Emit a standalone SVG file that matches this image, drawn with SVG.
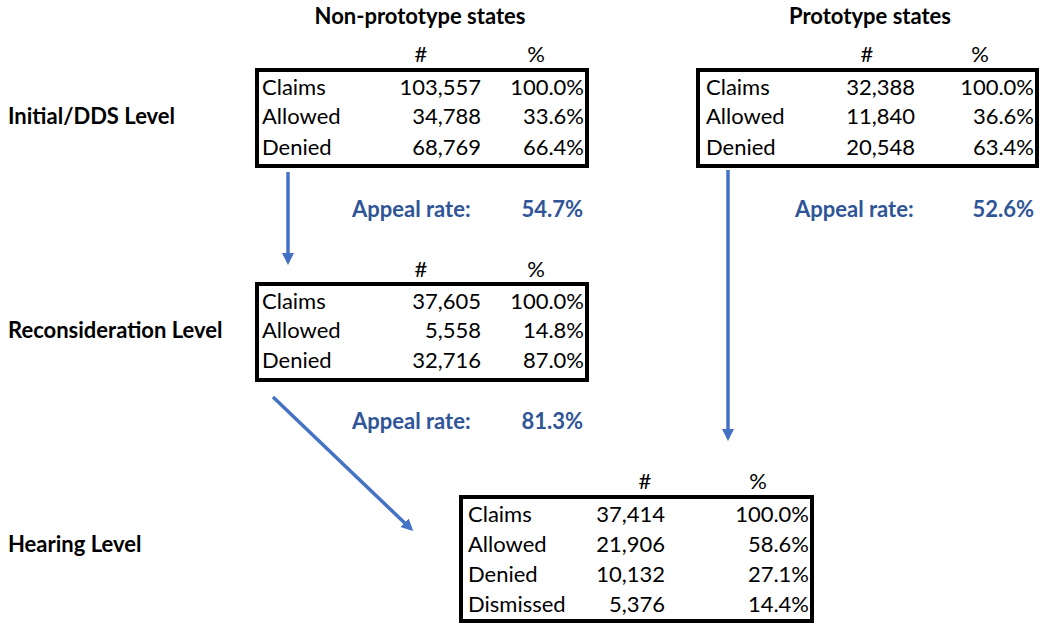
<svg xmlns="http://www.w3.org/2000/svg" width="1050" height="628" viewBox="0 0 1050 628">
<style>
text{font-family:Lato,"Open Sans","Liberation Sans",sans-serif;font-size:22px;fill:#000}
.b{font-weight:bold}
.h{text-anchor:middle}
.r{text-anchor:end}
.ap{font-weight:bold;fill:#2F5597}
.box{fill:#fff;stroke:#000;stroke-width:4}
.arr{stroke:#4472C4;stroke-width:3.5;fill:none}
</style>
<defs>
<marker id="ah" markerWidth="14" markerHeight="14" refX="9" refY="6" orient="auto" markerUnits="userSpaceOnUse">
<path d="M0,0 L12,6 L0,12 Z" fill="#4472C4"/>
</marker>
</defs>
<rect width="1050" height="628" fill="#fff"/>
<g id="titles">
<text class="b h" x="420" y="24">Non-prototype states</text>
<text class="b h" x="870" y="24">Prototype states</text>
<text class="b" x="8" y="124">Initial/DDS Level</text>
<text class="b" x="8" y="338">Reconsideration Level</text>
<text class="b" x="8" y="552">Hearing Level</text>
</g>
<g id="initial-nonproto">
<text class="h" x="421" y="62">#</text>
<text class="h" x="536" y="62">%</text>
<rect class="box" x="257" y="70" width="330" height="96"/>
<text x="262" y="95">Claims</text><text class="r" x="481" y="95">103,557</text><text class="r" x="584" y="95">100.0%</text>
<text x="262" y="124">Allowed</text><text class="r" x="481" y="124">34,788</text><text class="r" x="584" y="124">33.6%</text>
<text x="262" y="155">Denied</text><text class="r" x="481" y="155">68,769</text><text class="r" x="584" y="155">66.4%</text>
</g>
<g id="initial-proto">
<text class="h" x="867" y="62">#</text>
<text class="h" x="980" y="62">%</text>
<rect class="box" x="698" y="70" width="339" height="96"/>
<text x="706" y="95">Claims</text><text class="r" x="915" y="95">32,388</text><text class="r" x="1034" y="95">100.0%</text>
<text x="706" y="124">Allowed</text><text class="r" x="915" y="124">11,840</text><text class="r" x="1034" y="124">36.6%</text>
<text x="706" y="155">Denied</text><text class="r" x="915" y="155">20,548</text><text class="r" x="1034" y="155">63.4%</text>
</g>
<g id="appeal1">
<text class="ap" x="352" y="217">Appeal rate:</text>
<text class="ap r" x="583" y="217">54.7%</text>
</g>
<g id="appeal2">
<text class="ap" x="352" y="429">Appeal rate:</text>
<text class="ap r" x="583" y="429">81.3%</text>
</g>
<g id="appeal3">
<text class="ap" x="795" y="217">Appeal rate:</text>
<text class="ap r" x="1034" y="217">52.6%</text>
</g>
<g id="recon-nonproto">
<text class="h" x="421" y="277">#</text>
<text class="h" x="536" y="277">%</text>
<rect class="box" x="257" y="284" width="330" height="96"/>
<text x="262" y="309">Claims</text><text class="r" x="481" y="309">37,605</text><text class="r" x="584" y="309">100.0%</text>
<text x="262" y="338">Allowed</text><text class="r" x="481" y="338">5,558</text><text class="r" x="584" y="338">14.8%</text>
<text x="262" y="368">Denied</text><text class="r" x="481" y="368">32,716</text><text class="r" x="584" y="368">87.0%</text>
</g>
<g id="hearing">
<text class="h" x="645" y="489">#</text>
<text class="h" x="758" y="489">%</text>
<rect class="box" x="461" y="497" width="351" height="124"/>
<text x="468" y="522">Claims</text><text class="r" x="665" y="522">37,414</text><text class="r" x="809" y="522">100.0%</text>
<text x="468" y="552">Allowed</text><text class="r" x="665" y="552">21,906</text><text class="r" x="809" y="552">58.6%</text>
<text x="468" y="582">Denied</text><text class="r" x="665" y="582">10,132</text><text class="r" x="809" y="582">27.1%</text>
<text x="468" y="612">Dismissed</text><text class="r" x="665" y="612">5,376</text><text class="r" x="809" y="612">14.4%</text>
</g>
<g id="connectors">
<line class="arr" x1="288" y1="172" x2="288" y2="262" marker-end="url(#ah)"/>
<line class="arr" x1="273" y1="397" x2="411" y2="529" marker-end="url(#ah)"/>
<line class="arr" x1="728" y1="170" x2="728" y2="438" marker-end="url(#ah)"/>
</g>
</svg>
